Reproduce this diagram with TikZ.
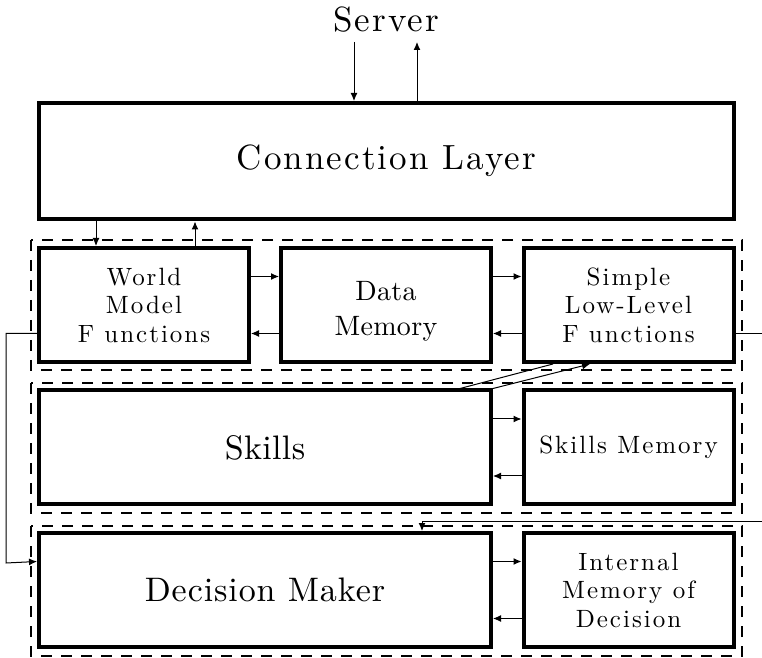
\documentclass[tikz,border=0pt]{standalone}
\usepackage{fontspec}
\setmainfont{lmroman10-regular.otf}
\usetikzlibrary{arrows.meta}
\tikzset{
  blk/.style={draw, line width=2pt, minimum height=57pt, align=center, inner sep=0pt},
  smallblk/.style={blk, minimum width=105pt, font=\fontsize{12.5}{14.25}\selectfont\addfontfeature{LetterSpace=8}},
  bigtxt/.style={font=\fontsize{17.5}{20}\selectfont\addfontfeature{LetterSpace=6}},
  group/.style={draw, line width=1pt, dash pattern=on 5.5pt off 4.5pt},
  link/.style={-{Latex[length=4pt,width=3.5pt]}, line width=0.5pt},
}
\begin{document}
\begin{tikzpicture}[x=0.5pt,y=-0.5pt]
     \useasboundingbox (0,0) rectangle (762,658);
     % server and connection layer
     \node[bigtxt] (server) at (386,20) {Server};
     \node[blk, bigtxt, minimum width=347.5pt, minimum height=58.25pt] (cl) at (386.5,161.25) {Connection Layer};
     \coordinate (srvout) at (354,42);
     \coordinate (srvin) at (417,42);
     \draw[link] (srvout) -- (srvout |- cl.north);
     \draw[link] (srvin |- cl.north) -- (srvin);
     % dashed groups
     \draw[group] (31,240) rectangle (742,370);
     \draw[group] (31,383) rectangle (742,513);
     \draw[group] (31,526) rectangle (742,656);
     % first row
     \node[smallblk] (wm) at (144,305) {World\\Model\\F unctions};
     \node[smallblk, font=\fontsize{14}{17.5}\selectfont\addfontfeature{LetterSpace=1}] (dmem) at (386,305) {\rule{0pt}{16pt}Data\\Memory};
     \node[smallblk] (sl) at (628.5,305) {Simple\\Low-Level\\F unctions};
     % second row
     \node[blk, minimum width=226pt, font=\fontsize{17}{20}\selectfont\addfontfeature{LetterSpace=1}] (sk) at (265,447.5) {Skills};
     \node[smallblk] (skm) at (628.5,447.5) {Skills Memory};
     % third row
     \node[blk, minimum width=226pt, font=\fontsize{17}{20}\selectfont\addfontfeature{LetterSpace=2.7}] (dec) at (265,590) {Decision Maker};
     \node[smallblk] (imd) at (628.5,590) {Internal\\Memory of\\Decision};
     % connection layer <-> world model
     \coordinate (wmin) at ([xshift=-24pt]wm.north);
     \coordinate (wmout) at ([xshift=25.5pt]wm.north);
     \draw[link] (wmin |- cl.south) -- (wmin);
     \draw[link] (wmout) -- (wmout |- cl.south);
     % side by side arrows
     \draw[link] ([yshift=14.25pt]wm.east) -- ([yshift=14.25pt]dmem.west);
     \draw[link] ([yshift=-14.25pt]dmem.west) -- ([yshift=-14.25pt]wm.east);
     \draw[link] ([yshift=14.25pt]dmem.east) -- ([yshift=14.25pt]sl.west);
     \draw[link] ([yshift=-14.25pt]sl.west) -- ([yshift=-14.25pt]dmem.east);
     \draw[link] ([yshift=14.25pt]sk.east) -- ([yshift=14.25pt]skm.west);
     \draw[link] ([yshift=-14.25pt]skm.west) -- ([yshift=-14.25pt]sk.east);
     \draw[link] ([yshift=14.25pt]dec.east) -- ([yshift=14.25pt]imd.west);
     \draw[link] ([yshift=-14.25pt]imd.west) -- ([yshift=-14.25pt]dec.east);
     % skills <-> low level
     \draw[line width=0.5pt] ([xshift=97.5pt]sk.north) -- ([xshift=-37.75pt]sl.south);
     \draw[link] (sk.north east) -- ([xshift=-19.25pt]sl.south);
     % long connectors
     \coordinate (lturn) at (6,563);
     \coordinate (rturn) at (780,521);
     \draw[link] ([yshift=-14.25pt]wm.west) -| (lturn) -- ([yshift=14.25pt]dec.west);
     \draw[link] ([yshift=-14.25pt]sl.east) -| (rturn) -| ([xshift=78.5pt]dec.north);
\end{tikzpicture}
\end{document}
